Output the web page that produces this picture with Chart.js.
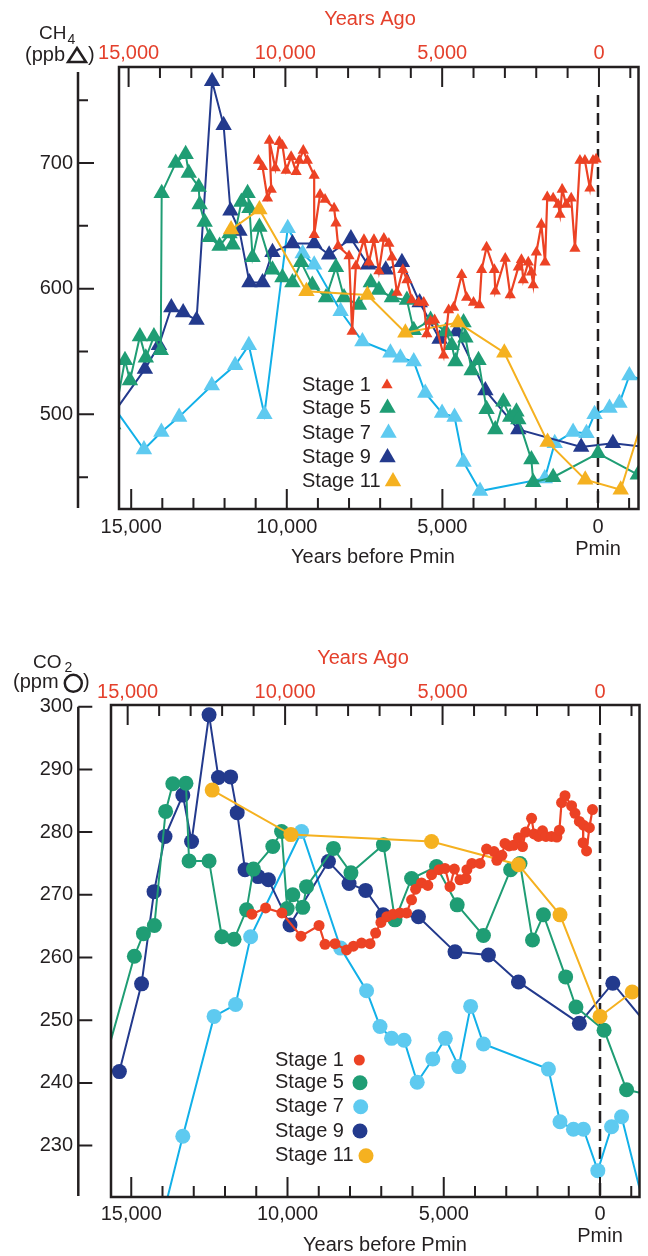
<!DOCTYPE html>
<html>
<head>
<meta charset="utf-8">
<script src="https://cdn.jsdelivr.net/npm/chart.js@4.4.1/dist/chart.umd.min.js"></script>
<style>
  body { margin: 0; background: #fff; }
  canvas { position: absolute; left: 0; }
</style>
</head>
<body>
<canvas id="ch4Chart" width="648" height="600" style="top:0"></canvas>
<canvas id="co2Chart" width="648" height="656" style="top:600px"></canvas>
<script>
// CH4 and CO2 through interglacial stages 1, 5, 7, 9 and 11, lined up on Pmin

var stages = ['Stage 1', 'Stage 5', 'Stage 7', 'Stage 9', 'Stage 11'];

// year ticks every 1000, labels every 5000
var yearTicks = [15000, 14000, 13000, 12000, 11000, 10000, 9000, 8000, 7000, 6000, 5000, 4000, 3000, 2000, 1000, 0, -1000];
var yearLabels = [15000, 10000, 5000, 0];
var ch4Ticks = [450, 500, 550, 600, 650, 700, 750];
var ch4Labels = [500, 600, 700];
var co2Ticks = [230, 240, 250, 260, 270, 280, 290, 300];

// ---- CH4 (ppb), years before Pmin ----
var ch4Stage1Years = [10910, 10780, 10620, 10500, 10560, 10370, 10240, 10140, 10020, 9860, 9700, 9600, 9470, 9340, 9120, 9120, 8930, 8770, 8480, 8420, 8350, 8000, 7900, 7780, 7520, 7360, 7200, 7040, 6880, 6720, 6620, 6460, 6270, 6140, 5980, 5760, 5600, 5500, 5380, 5250, 4960, 4800, 4640, 4380, 4220, 4000, 3810, 3740, 3580, 3330, 3300, 2980, 2820, 2560, 2460, 2400, 2240, 2140, 2080, 1980, 1820, 1700, 1630, 1440, 1280, 1220, 1150, 1020, 860, 740, 580, 420, 260, 160, 60];
var ch4Stage1 = [702, 697, 672, 679, 718, 696, 717, 714, 694, 705, 693, 702, 710, 702, 690, 643, 675, 671, 664, 652, 634, 626, 566, 618, 639, 621, 639, 614, 640, 636, 625, 597, 615, 607, 591, 589, 589, 564, 574, 575, 547, 583, 585, 611, 593, 589, 587, 615, 633, 615, 598, 624, 595, 617, 623, 607, 621, 613, 603, 629, 651, 621, 673, 672, 667, 659, 679, 667, 672, 632, 702, 702, 680, 702, 703];

var ch4Stage5Years = [15580, 15200, 15040, 14720, 14530, 14270, 14050, 14020, 13570, 13250, 13150, 12830, 12800, 12640, 12480, 12160, 11840, 11740, 11460, 11260, 11200, 11100, 10880, 10460, 10140, 9820, 9540, 9180, 8740, 8420, 8160, 7680, 7300, 7040, 6620, 6140, 5920, 5380, 4900, 4700, 4580, 4320, 4260, 4060, 3840, 3580, 3300, 3040, 2820, 2620, 2560, 2140, 2080, 1440, 0, -1280];
var ch4Stage5 = [492, 543, 527, 562, 545, 562, 551, 676, 700, 707, 692, 681, 667, 653, 641, 634, 644, 635, 669, 676, 664, 625, 649, 615, 609, 605, 621, 603, 593, 617, 593, 587, 605, 599, 593, 591, 567, 575, 566, 555, 542, 573, 561, 535, 543, 504, 488, 510, 498, 502, 496, 464, 446, 450, 469, 452];

var ch4Stage7Years = [16000, 14590, 14030, 13460, 12410, 11660, 11220, 10720, 9970, 9490, 9120, 8270, 7570, 6670, 6350, 5920, 5550, 5010, 4610, 4320, 3790, 1710, 1390, 800, 370, 110, -370, -690, -1010, -1920];
var ch4Stage7 = [521, 472, 486, 498, 523, 539, 555, 500, 648, 628, 619, 582, 558, 549, 545, 542, 517, 501, 498, 462, 439, 449, 477, 486, 485, 500, 505, 509, 531, 523];

var ch4Stage9Years = [16000, 14560, 14110, 13710, 13330, 12900, 12400, 12030, 11810, 11520, 11200, 10780, 10460, 9820, 9120, 8640, 7940, 7390, 6820, 6300, 5730, 5090, 4540, 3620, 2560, 540, -480, -1920];
var ch4Stage9 = [486, 536, 555, 585, 581, 575, 765, 730, 662, 646, 605, 605, 629, 636, 636, 627, 640, 619, 615, 621, 589, 560, 566, 519, 488, 474, 477, 473];

var ch4Stage11Years = [11790, 10880, 9370, 7410, 6190, 4500, 3010, 1620, 410, -730, -1600];
var ch4Stage11 = [647, 663, 598, 595, 565, 573, 549, 478, 448, 440, 509];

// ---- CO2 (ppm), years before Pmin ----
var co2Stage1Years = [11140, 10700, 10180, 9570, 8990, 8800, 8480, 8110, 7890, 7630, 7360, 7180, 7010, 6820, 6620, 6400, 6190, 6030, 5900, 5710, 5510, 5390, 5150, 4960, 4800, 4660, 4480, 4290, 4260, 4100, 3840, 3630, 3390, 3300, 3140, 3040, 2910, 2770, 2610, 2480, 2380, 2190, 2110, 1970, 1840, 1730, 1550, 1380, 1300, 1230, 1120, 910, 800, 660, 530, 540, 430, 340, 240];
var co2Stage1 = [266.9, 267.9, 267.1, 263.4, 265.1, 262.1, 262.2, 261.2, 261.8, 262.3, 262.2, 263.9, 265.6, 266.5, 266.9, 267.1, 267.1, 269.2, 270.9, 271.9, 271.5, 273.2, 274.0, 274.2, 271.3, 274.1, 272.4, 272.6, 274.0, 275.0, 275.0, 277.3, 276.9, 275.5, 276.3, 278.2, 277.8, 277.9, 279.1, 277.7, 280.0, 282.2, 279.7, 279.3, 280.2, 279.3, 279.3, 279.2, 280.3, 284.7, 285.8, 284.2, 283.0, 281.7, 281.1, 278.3, 277.0, 280.7, 283.6];

var co2Stage5Years = [16000, 14900, 14610, 14260, 13900, 13670, 13250, 13150, 12510, 12100, 11710, 11310, 11090, 10470, 10190, 10010, 9830, 9510, 9390, 8530, 7970, 6930, 6560, 6030, 5230, 4570, 3730, 2860, 2560, 2160, 1810, 1100, 770, -130, -850, -1920];
var co2Stage5 = [240.6, 260.2, 263.8, 265.1, 283.3, 287.7, 287.8, 275.4, 275.4, 263.3, 262.9, 267.6, 274.1, 277.7, 280.1, 267.8, 270.0, 268.0, 271.3, 277.4, 273.5, 278.0, 266.0, 272.6, 274.5, 268.4, 263.5, 274.0, 275.0, 262.8, 266.8, 256.9, 252.1, 248.4, 238.9, 237.7];

var co2Stage7Years = [14080, 13350, 12350, 11660, 11180, 9550, 8300, 7470, 7040, 6670, 6270, 5850, 5350, 4950, 4520, 4140, 3730, 1650, 1280, 850, 530, 70, -370, -690, -1440];
var co2Stage7 = [216.9, 231.5, 250.6, 252.5, 263.3, 280.1, 261.5, 254.7, 249.0, 247.1, 246.8, 240.1, 243.8, 247.1, 242.6, 252.2, 246.2, 242.2, 233.8, 232.6, 232.6, 226.0, 233.0, 234.6, 219.7];

var co2Stage9Years = [15380, 14670, 14270, 13920, 13350, 13070, 12510, 12210, 11820, 11610, 11360, 10940, 10610, 9920, 8690, 8030, 7500, 6940, 5810, 4640, 3570, 2610, 660, -410, -1920];
var co2Stage9 = [241.8, 255.8, 270.5, 279.3, 285.9, 278.5, 298.7, 288.7, 288.8, 283.1, 274.0, 272.9, 272.4, 265.2, 275.3, 271.8, 270.7, 266.8, 266.5, 260.9, 260.4, 256.1, 249.5, 255.9, 246.8];

var co2Stage11Years = [12410, 9890, 5390, 2610, 1280, 0, -1030];
var co2Stage11 = [286.7, 279.6, 278.5, 274.8, 266.8, 250.6, 254.5];

var family = "'Liberation Sans', Arial, Helvetica, sans-serif";
var ink = '#231f20';
var agoRed = '#e4402c';
var stageColors = ['#ec4224', '#1f9d74', '#5ecaf0', '#233a8d', '#f5b120'];
var stageLines = ['#ec4224', '#1f9d74', '#12b0e8', '#233a8d', '#f5b120'];
var drawOrder = [1, 3, 5, 4, 2];

Chart.defaults.font.family = family;
Chart.defaults.font.size = 20;
Chart.defaults.color = ink;

function pairs(xs, ys) {
    return xs.map(function(x, i) { return {x: x, y: ys[i]}; });
}

function stageDataset(i, xs, ys, style, big, small) {
    var r = i === 0 ? small : big;
    return {
        label: stages[i],
        data: pairs(xs, ys),
        borderColor: stageLines[i],
        borderWidth: i === 0 ? 2.2 : 2,
        pointStyle: style,
        pointRadius: r,
        pointHoverRadius: r,
        pointBackgroundColor: stageColors[i],
        pointBorderColor: stageColors[i],
        pointBorderWidth: 0,
        tension: 0,
        order: drawOrder[i]
    };
}

function yearAxis(pos, min, max, pad, color, size, withPmin) {
    return {
        type: 'linear', position: pos, reverse: true, min: min, max: max, bounds: 'data',
        afterBuildTicks: function(s) { s.ticks = yearTicks.map(function(v) { return {value: v}; }); },
        afterFit: function(s) { s.height = size; },
        grid: {display: false, drawTicks: false},
        border: {display: false},
        ticks: {
            autoSkip: false, maxRotation: 0, minRotation: 0, padding: pad, color: color,
            font: {size: 20, lineHeight: 1.1},
            callback: function(v) {
                if (yearLabels.indexOf(v) < 0) return '';
                var s = v.toLocaleString('en-US');
                return (withPmin && v === 0) ? [s, 'Pmin'] : s;
            }
        }
    };
}

function valueAxis(min, max, ticks, labels, size, pad) {
    return {
        type: 'linear', position: 'left', min: min, max: max, bounds: 'data',
        afterBuildTicks: function(s) { s.ticks = ticks.map(function(v) { return {value: v}; }); },
        afterFit: function(s) { s.width = size; },
        grid: {display: false, drawTicks: false},
        border: {display: false},
        ticks: {
            autoSkip: false, padding: pad, color: ink, font: {size: 20},
            callback: function(v) { return labels.indexOf(v) >= 0 ? String(v) : ''; }
        }
    };
}

function drawMarker(ctx, style, x, y, r, color) {
    ctx.fillStyle = color;
    ctx.beginPath();
    if (style === 'triangle') {
        ctx.moveTo(x, y - r);
        ctx.lineTo(x + r * 0.866, y + r * 0.5);
        ctx.lineTo(x - r * 0.866, y + r * 0.5);
        ctx.closePath();
    } else {
        ctx.arc(x, y, r, 0, Math.PI * 2);
    }
    ctx.fill();
}

// box, inward ticks, detached value axis, Pmin line, titles and key
var framePlugin = {
    id: 'frame',
    beforeDatasetsDraw: function(chart, args, o) {
        var ctx = chart.ctx, a = chart.chartArea;
        var x = chart.scales.x.getPixelForValue(0);
        ctx.save();
        ctx.strokeStyle = ink;
        ctx.lineWidth = 2.5;
        ctx.setLineDash([12, 6]);
        ctx.beginPath();
        ctx.moveTo(x, a.top + 28);
        ctx.lineTo(x, a.bottom);
        ctx.stroke();
        ctx.restore();
    },
    afterDatasetsDraw: function(chart, args, o) {
        var ctx = chart.ctx, a = chart.chartArea, sc = chart.scales;
        ctx.save();
        ctx.strokeStyle = ink;
        ctx.lineWidth = 2.5;
        ctx.strokeRect(a.left, a.top, a.right - a.left, a.bottom - a.top);

        ctx.lineWidth = 2;
        ctx.beginPath();
        sc.x.ticks.forEach(function(t) {
            var px = sc.x.getPixelForValue(t.value);
            ctx.moveTo(px, a.bottom);
            ctx.lineTo(px, a.bottom - (t.value % 5000 === 0 ? 20 : 11));
        });
        sc.x2.ticks.forEach(function(t) {
            var px = sc.x2.getPixelForValue(t.value);
            ctx.moveTo(px, a.top);
            ctx.lineTo(px, a.top + (t.value % 5000 === 0 ? 20 : 11));
        });
        sc.y.ticks.forEach(function(t) {
            var py = sc.y.getPixelForValue(t.value);
            ctx.moveTo(o.axisX, py);
            ctx.lineTo(o.axisX + (t.label !== '' ? o.majorLen : o.minorLen), py);
        });
        ctx.stroke();

        ctx.lineWidth = 2.5;
        ctx.beginPath();
        ctx.moveTo(o.axisX, a.top + o.axisTop);
        ctx.lineTo(o.axisX, a.bottom - 1);
        ctx.stroke();
        ctx.restore();
    },
    afterDraw: function(chart, args, o) {
        var ctx = chart.ctx, u = o.unit, k = o.key;
        ctx.save();
        ctx.textBaseline = 'middle';
        ctx.textAlign = 'center';
        ctx.font = '20px ' + family;
        ctx.fillStyle = agoRed;
        ctx.fillText('Years Ago', o.agoX, o.agoY);
        ctx.fillStyle = ink;
        ctx.fillText('Years before Pmin', o.beforeX, o.beforeY);

        // unit label at the top of the value axis
        ctx.textAlign = 'left';
        ctx.textBaseline = 'alphabetic';
        ctx.font = '19px ' + family;
        ctx.fillText(u.main, u.mainX, u.mainY);
        ctx.font = '14px ' + family;
        ctx.fillText(u.sub, u.subX, u.subY);
        ctx.font = '20px ' + family;
        ctx.fillText(u.open, u.openX, u.baseY);
        ctx.fillText(')', u.closeX, u.baseY);
        ctx.strokeStyle = ink;
        ctx.lineWidth = 2.5;
        ctx.beginPath();
        if (u.symbol === 'triangle') {
            ctx.moveTo(u.symX, u.symY - 7);
            ctx.lineTo(u.symX + 9, u.symY + 7);
            ctx.lineTo(u.symX - 9, u.symY + 7);
            ctx.closePath();
        } else {
            ctx.arc(u.symX, u.symY, 8.5, 0, Math.PI * 2);
        }
        ctx.stroke();

        // key
        ctx.textBaseline = 'middle';
        stages.forEach(function(s, i) {
            ctx.fillStyle = ink;
            ctx.fillText(s, k.x, k.rows[i]);
            drawMarker(ctx, k.style, k.markX[i], k.rows[i], i === 0 ? k.small : k.big, stageColors[i]);
        });
        ctx.restore();
    }
};

new Chart(document.getElementById('ch4Chart'), {
    type: 'line',
    data: {
        datasets: [
            stageDataset(0, ch4Stage1Years, ch4Stage1, 'triangle', 9.5, 6.5),
            stageDataset(1, ch4Stage5Years, ch4Stage5, 'triangle', 9.5, 6.5),
            stageDataset(2, ch4Stage7Years, ch4Stage7, 'triangle', 9.5, 6.5),
            stageDataset(3, ch4Stage9Years, ch4Stage9, 'triangle', 9.5, 6.5),
            stageDataset(4, ch4Stage11Years, ch4Stage11, 'triangle', 9.5, 6.5)
        ]
    },
    options: {
        responsive: false,
        animation: false,
        devicePixelRatio: 1,
        layout: {padding: {left: 0, right: 7.3, top: 0, bottom: 0}},
        plugins: {
            legend: {display: false},
            tooltip: {enabled: false},
            frame: {
                axisX: 78, axisTop: 5, majorLen: 16, minorLen: 10,
                agoX: 370, agoY: 19, beforeX: 373, beforeY: 557,
                unit: {main: 'CH', mainX: 39, mainY: 39, sub: '4', subX: 67.5, subY: 44,
                       open: '(ppb', openX: 25, closeX: 88, baseY: 61, symbol: 'triangle', symX: 77, symY: 55},
                key: {x: 302, rows: [385, 408, 433, 457.5, 481.5], markX: [387, 387.5, 388.5, 387.5, 393],
                      style: 'triangle', big: 9.5, small: 6.5}
            }
        },
        scales: {
            x: yearAxis('bottom', -1302, 15392, 7, ink, 91, true),
            x2: yearAxis('top', -1261, 15306, 3, agoRed, 67, false),
            y: valueAxis(424.7, 776.4, ch4Ticks, ch4Labels, 119, 46)
        }
    },
    plugins: [framePlugin]
});

new Chart(document.getElementById('co2Chart'), {
    type: 'line',
    data: {
        datasets: [
            stageDataset(0, co2Stage1Years, co2Stage1, 'circle', 7.5, 5.5),
            stageDataset(1, co2Stage5Years, co2Stage5, 'circle', 7.5, 5.5),
            stageDataset(2, co2Stage7Years, co2Stage7, 'circle', 7.5, 5.5),
            stageDataset(3, co2Stage9Years, co2Stage9, 'circle', 7.5, 5.5),
            stageDataset(4, co2Stage11Years, co2Stage11, 'circle', 7.5, 5.5)
        ]
    },
    options: {
        responsive: false,
        animation: false,
        devicePixelRatio: 1,
        layout: {padding: {left: 0, right: 8.5, top: 0, bottom: 0}},
        plugins: {
            legend: {display: false},
            tooltip: {enabled: false},
            frame: {
                axisX: 78.3, axisTop: 1.7, majorLen: 14, minorLen: 14,
                agoX: 363, agoY: 58, beforeX: 385, beforeY: 645,
                unit: {main: 'CO', mainX: 33, mainY: 68, sub: '2', subX: 64.5, subY: 72,
                       open: '(ppm', openX: 13, closeX: 83, baseY: 88, symbol: 'circle', symX: 73.3, symY: 83.3},
                key: {x: 275, rows: [460, 482.7, 506.7, 531, 555.7], markX: [359.3, 360, 360.7, 360, 366],
                      style: 'circle', big: 7.5, small: 5.5}
            }
        },
        scales: {
            x: yearAxis('bottom', -1264, 15648, 6, ink, 59, true),
            x2: yearAxis('top', -1254, 15529, 2, agoRed, 105, false),
            y: valueAxis(221.8, 300.27, co2Ticks, co2Ticks, 111, 38)
        }
    },
    plugins: [framePlugin]
});
</script>
</body>
</html>
